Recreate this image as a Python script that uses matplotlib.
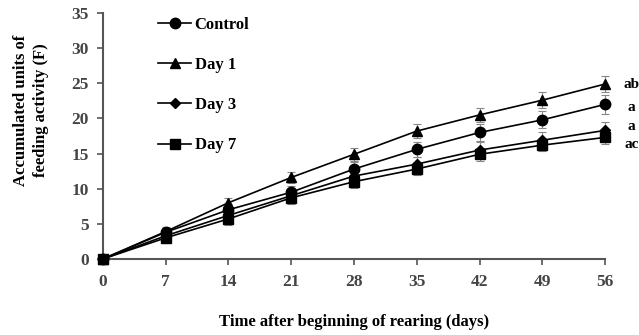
import matplotlib.pyplot as plt
from matplotlib.lines import Line2D
import numpy as np

plt.rcParams["font.family"] = ["Liberation Serif", "DejaVu Serif"]
plt.rcParams["font.weight"] = "bold"

days = [0, 7, 14, 21, 28, 35, 42, 49, 56]
control = [0, 3.8, 7.0, 9.5, 12.8, 15.6, 18.0, 19.8, 22.0]
day1 = [0, 3.9, 8.0, 11.6, 14.9, 18.2, 20.5, 22.6, 24.9]
day3 = [0, 3.3, 6.2, 9.0, 11.8, 13.5, 15.5, 16.9, 18.3]
day7 = [0, 3.0, 5.7, 8.7, 11.0, 12.8, 14.9, 16.2, 17.3]
err_control = [0, 0.6, 0.8, 0.9, 1.0, 1.1, 1.2, 1.2, 1.3]
err_day1 = [0, 0.6, 0.7, 0.8, 0.9, 1.0, 1.0, 1.1, 1.1]
err_day3 = [0, 0.7, 0.9, 1.0, 1.0, 1.0, 1.1, 1.1, 1.2]
err_day7 = [0, 0.8, 0.8, 0.9, 0.9, 0.9, 0.9, 0.9, 0.9]
letters = ["a", "ab", "a", "ac"]

series = [
    ("Control", control, err_control, "o", 7.5),
    ("Day 1", day1, err_day1, "^", 7.5),
    ("Day 3", day3, err_day3, "D", 5.5),
    ("Day 7", day7, err_day7, "s", 7),
]
# vertical nudges (points) so the letters near the end stay readable
letter_offsets = [-2, 0, 3, -5]

fig = plt.figure(figsize=(6.39, 3.35), dpi=100)
ax = fig.add_axes([0.161, 0.227, 0.786, 0.734])

axis_grey = "#555555"
handles = []
for (label, vals, err, marker, ms), let, dy in zip(series, letters, letter_offsets):
    ax.errorbar(days, vals, yerr=err, color="black", ecolor="#888888",
                elinewidth=0.8, capsize=3, capthick=0.8, lw=1.2,
                marker=marker, markersize=ms, clip_on=False, zorder=3)
    handles.append(Line2D([0], [0], color="black", lw=1.2, marker=marker,
                          markersize=ms, label=label))
    ax.annotate(let, xy=(days[-1], vals[-1]), xytext=(19, dy),
                textcoords="offset points", ha="center", va="center",
                fontsize=11, fontweight="bold", annotation_clip=False)

ax.set_xlim(0, 56)
ax.set_ylim(0, 35)
ax.set_xticks(days)
ax.set_yticks(np.arange(0, 36, 5))
for side in ["top", "right"]:
    ax.spines[side].set_visible(False)
for side in ["left", "bottom"]:
    ax.spines[side].set_color(axis_grey)
    ax.spines[side].set_linewidth(1.5)
ax.tick_params(axis="both", colors=axis_grey, labelsize=12.5, width=1.2,
               length=4, labelcolor="#444444")
ax.tick_params(axis="x", pad=7)
ax.tick_params(axis="y", pad=6)

ax.set_xlabel("Time after beginning of rearing (days)", fontsize=12,
              fontweight="bold", labelpad=17)
fig.text(31 / 639, 1 - 110 / 335, "Accumulated units of\nfeeding activity (F)",
         rotation=90, ha="center", va="center", multialignment="center",
         fontsize=12, fontweight="bold", linespacing=1.35)

ax.legend(handles=handles, loc="upper left", bbox_to_anchor=(0.08, 1.045),
          frameon=False, fontsize=12, labelspacing=1.45, handlelength=2.0,
          handletextpad=0.2)

plt.savefig("out.png", dpi=100)
